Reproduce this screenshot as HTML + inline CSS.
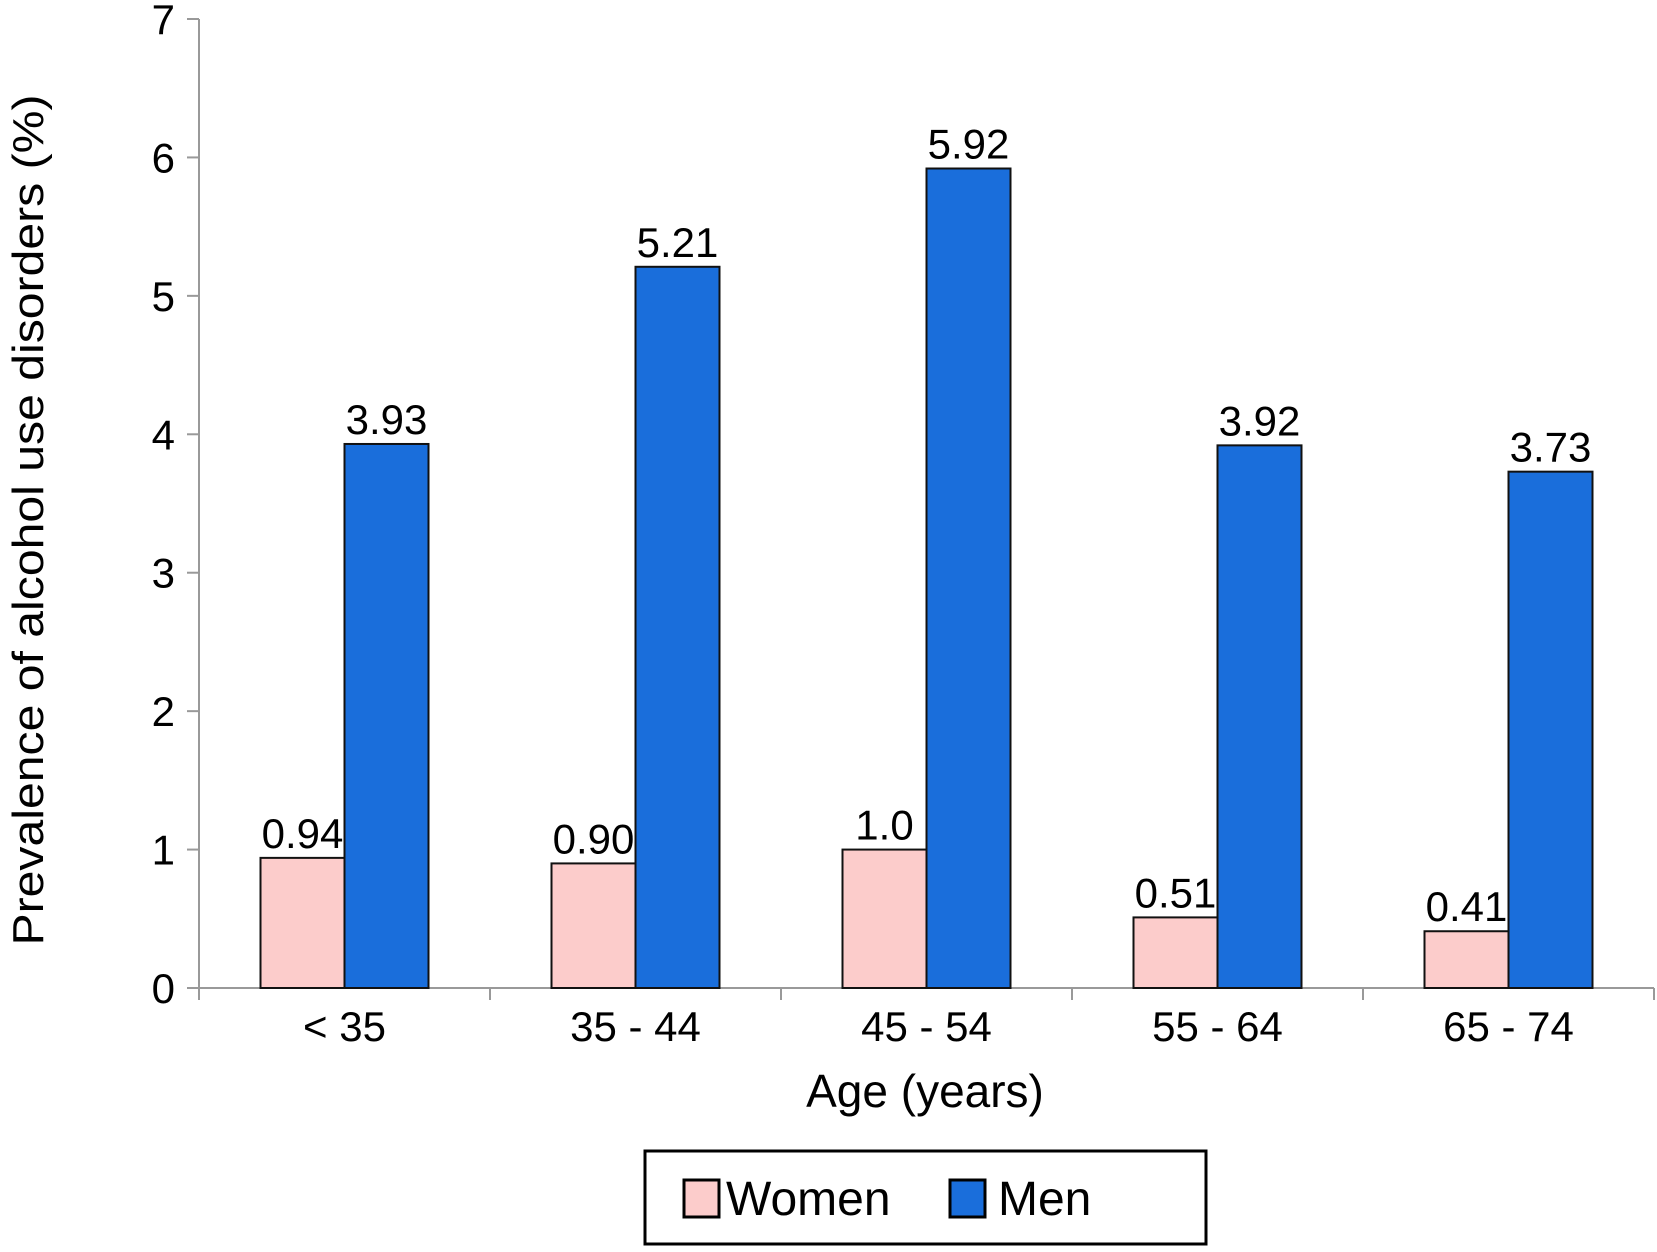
<!DOCTYPE html>
<html><head><meta charset="utf-8"><style>
html,body{margin:0;padding:0;background:#fff;}
svg text{font-family:"Liberation Sans",Arial,sans-serif;fill:#000;}
</style></head><body>
<svg id="chart" width="1657" height="1247" viewBox="0 0 1657 1247" xmlns="http://www.w3.org/2000/svg">
<g id="axes"></g><g id="bars"></g>
<text x="0" y="0" transform="translate(43,520) rotate(-90)" text-anchor="middle" font-size="44" textLength="851" lengthAdjust="spacingAndGlyphs">Prevalence of alcohol use disorders (%)</text>
<text x="925" y="1107" text-anchor="middle" font-size="46">Age (years)</text>
<g>
<rect x="645" y="1151" width="561" height="93" fill="#fff" stroke="#000" stroke-width="3"/>
<rect x="684" y="1180" width="35" height="37" fill="#fccccb" stroke="#000" stroke-width="3"/>
<text x="726" y="1215" font-size="48">Women</text>
<rect x="950" y="1180" width="35" height="37" fill="#1a6edb" stroke="#000" stroke-width="3"/>
<text x="998" y="1215" font-size="48">Men</text>
</g>
</svg>
<script>
const categories = ["< 35", "35 - 44", "45 - 54", "55 - 64", "65 - 74"];
const women = [0.94, 0.90, 1.0, 0.51, 0.41];
const men = [3.93, 5.21, 5.92, 3.92, 3.73];
const womenLabels = ["0.94", "0.90", "1.0", "0.51", "0.41"];
const menLabels = ["3.93", "5.21", "5.92", "3.92", "3.73"];
const yTicks = [0, 1, 2, 3, 4, 5, 6, 7];

const NS = "http://www.w3.org/2000/svg";
const x0 = 199, x1 = 1654, yBase = 988, yTop = 19, yMax = 7;
const bandW = (x1 - x0) / categories.length;
const barW = 84;
function yScale(v){ return yBase - (v / yMax) * (yBase - yTop); }
function xCenter(i){ return x0 + bandW * (i + 0.5); }
function mk(tag, attrs, parent){
  const el = document.createElementNS(NS, tag);
  for (const k in attrs) el.setAttribute(k, attrs[k]);
  parent.appendChild(el);
  return el;
}
const axes = document.getElementById('axes');
const bars = document.getElementById('bars');

let el = mk('line', {x1:x0, y1:yTop, x2:x0, y2:yBase, stroke:'#999', 'stroke-width':2}, axes);


el = mk('line', {x1:x0-12, y1:yBase, x2:x1, y2:yBase, stroke:'#999', 'stroke-width':2}, axes);



yTicks.forEach(t => {
  const y = yScale(t);
  let tk = mk('line', {x1:x0-12, y1:y, x2:x0, y2:y, stroke:'#999', 'stroke-width':2}, axes);
  
  
  let lb = mk('text', {x:175, y:y+15, 'text-anchor':'end', 'font-size':42}, axes);
  lb.textContent = String(t);
  
  
});

for (let i = 0; i <= categories.length; i++) {
  const x = x0 + bandW * i;
  let tk = mk('line', {x1:x, y1:yBase, x2:x, y2:yBase+12, stroke:'#999', 'stroke-width':2}, axes);
  
  
}

categories.forEach((c, i) => {
  const cx = xCenter(i);
  let lb = mk('text', {x:cx, y:1041, 'text-anchor':'middle', 'font-size':42}, axes);
  lb.textContent = c;
  
  

  const yw = yScale(women[i]);
  let bw = mk('rect', {x:cx-barW, y:yw, width:barW, height:yBase-yw, fill:'#fccccb', stroke:'#111', 'stroke-width':2}, bars);
  
  
  let tw = mk('text', {x:cx-barW/2, y:yw-10, 'text-anchor':'middle', 'font-size':42}, bars);
  tw.textContent = womenLabels[i];
  
  

  const ym = yScale(men[i]);
  let bm = mk('rect', {x:cx, y:ym, width:barW, height:yBase-ym, fill:'#1a6edb', stroke:'#111', 'stroke-width':2}, bars);
  
  
  let tm = mk('text', {x:cx+barW/2, y:ym-10, 'text-anchor':'middle', 'font-size':42}, bars);
  tm.textContent = menLabels[i];
  
  
});
</script>
</body></html>
